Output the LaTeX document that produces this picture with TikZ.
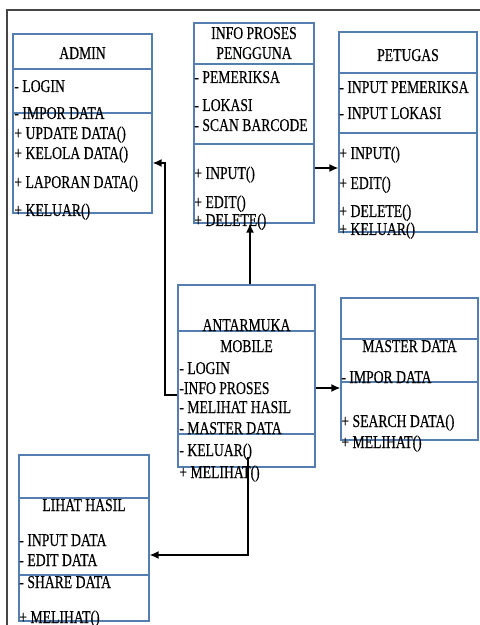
\documentclass[tikz,border=0pt]{standalone}
\usepackage{fontspec}
\setmainfont[FakeStretch=0.76,FakeBold=0.4]{Liberation Serif}
\usetikzlibrary{fit,arrows.meta}
\definecolor{kotak}{RGB}{84,126,176}
\definecolor{bingkai}{RGB}{70,70,70}
\begin{document}
\begin{tikzpicture}[x=0.5pt,y=-0.5pt,
  kelas/.style={draw=kotak,line width=0.65pt,inner sep=0pt},
  garis/.style={draw=kotak,line width=0.65pt},
  teks/.style={anchor=base west,inner sep=0pt,font=\fontsize{9}{10}\selectfont},
  judul/.style={anchor=base,inner sep=0pt,font=\fontsize{9}{10}\selectfont},
  panah/.style={line width=0.7pt,-{Latex[length=4.5pt,width=4pt]}}]
\useasboundingbox (0,0) rectangle (480,625);
\draw[bingkai,line width=1pt] (480,10) -- (7,10) -- (7,625);

% kelas
\node (admin) [kelas,fit={(13,34) (152,213)}] {};
\draw[garis] (13,69) -- (152,69);
\draw[garis] (13,113) -- (152,113);

\node (info) [kelas,fit={(194,23) (314,223)}] {};
\draw[garis] (194,64) -- (314,64);
\draw[garis] (194,144) -- (314,144);

\node (petugas) [kelas,fit={(339,32) (477,232)}] {};
\draw[garis] (339,73) -- (477,73);
\draw[garis] (339,133) -- (477,133);

\node (antarmuka) [kelas,fit={(178,285) (315,467)}] {};
\draw[garis] (178,331) -- (315,331);
\draw[garis] (178,434) -- (315,434);

\node (master) [kelas,fit={(341,298) (478,440)}] {};
\draw[garis] (341,339) -- (478,339);
\draw[garis] (341,382) -- (478,382);

\node (lihat) [kelas,fit={(19,455) (149,621)}] {};
\draw[garis] (19,498) -- (149,498);
\draw[garis] (19,575) -- (149,575);

% ADMIN
\node[judul] (a0) at (82.5,59) {ADMIN};
\node[teks] (a1) at (14,92) {- LOGIN};
\node[teks] (a2) at (14,119) {- IMPOR DATA};
\node[teks] (a3) at (14,139) {+ UPDATE DATA()};
\node[teks] (a4) at (14,159) {+ KELOLA DATA()};
\node[teks] (a5) at (14,188) {+ LAPORAN DATA()};
\node[teks] (a6) at (14,216) {+ KELUAR()};

% INFO PROSES PENGGUNA
\node[judul] (i0) at (254,39) {INFO PROSES};
\node[judul] (i00) at (254,59) {PENGGUNA};
\node[teks] (i1) at (194,83) {- PEMERIKSA};
\node[teks] (i2) at (194,111) {- LOKASI};
\node[teks] (i3) at (194,131) {- SCAN BARCODE};
\node[teks] (i4) at (194,179) {+ INPUT()};
\node[teks] (i5) at (194,208) {+ EDIT()};
\node[teks] (i6) at (194,226) {+ DELETE()};

% PETUGAS
\node[judul] (p0) at (408,61) {PETUGAS};
\node[teks] (p1) at (339,93) {- INPUT PEMERIKSA};
\node[teks] (p2) at (339,119) {- INPUT LOKASI};
\node[teks] (p3) at (339,159) {+ INPUT()};
\node[teks] (p4) at (339,189) {+ EDIT()};
\node[teks] (p5) at (339,217) {+ DELETE()};
\node[teks] (p6) at (339,235) {+ KELUAR()};

% ANTARMUKA MOBILE
\node[judul] (m0) at (246.5,331) {ANTARMUKA};
\node[judul] (m00) at (246.5,352) {MOBILE};
\node[teks] (m1) at (179,374) {- LOGIN};
\node[teks] (m2) at (179,394) {-INFO PROSES};
\node[teks] (m3) at (179,413) {- MELIHAT HASIL};
\node[teks] (m4) at (179,434) {- MASTER DATA};
\node[teks] (m5) at (179,456) {- KELUAR()};
\node[teks] (m6) at (179,478) {+ MELIHAT()};

% MASTER DATA
\node[judul] (d0) at (409.5,352) {MASTER DATA};
\node[teks] (d1) at (341,383) {- IMPOR DATA};
\node[teks] (d2) at (341,427) {+ SEARCH DATA()};
\node[teks] (d3) at (341,448) {+ MELIHAT()};

% LIHAT HASIL
\node[judul] (l0) at (84,511) {LIHAT HASIL};
\node[teks] (l1) at (19,546) {- INPUT DATA};
\node[teks] (l2) at (19,566) {- EDIT DATA};
\node[teks] (l3) at (19,588) {- SHARE DATA};
\node[teks] (l4) at (19,623) {+ MELIHAT()};

% relasi
\coordinate (mulai) at (248,457);
\draw[panah] (info.east |- 0,168) -- (petugas.west |- 0,168);
\draw[panah] (antarmuka.north -| 250,0) -- (info.south -| 250,0);
\draw[panah] (antarmuka.west |- 0,395) -- (165,395) |- (admin.east |- 0,163);
\draw[panah] (antarmuka.east |- 0,388) -- (master.west |- 0,388);
\draw[panah] (mulai) |- (lihat.east |- 0,555);
\end{tikzpicture}
\end{document}
